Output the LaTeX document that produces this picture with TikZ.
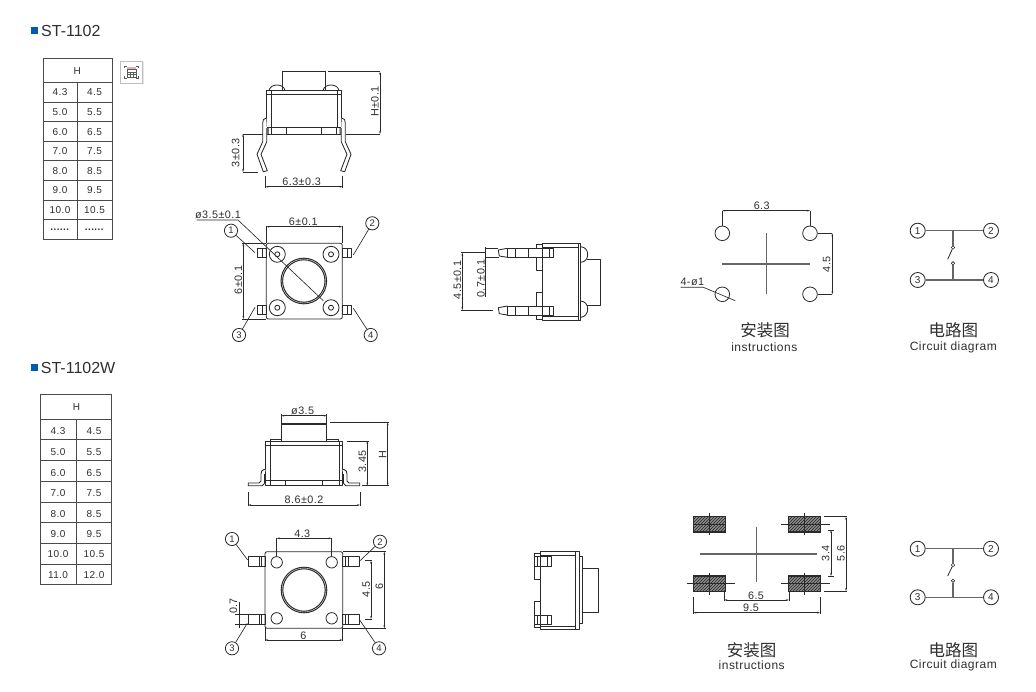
\documentclass[tikz,border=0pt]{standalone}
\usepackage{fontspec}
\usetikzlibrary{arrows.meta,patterns}
\setmainfont{Liberation Sans}
\newfontfamily\trk[LetterSpace=4]{Liberation Sans}
\newfontfamily\cjkf{Noto Sans CJK SC}
\definecolor{ink}{HTML}{2A2A2A}
\definecolor{txt}{HTML}{2F2F2F}
\definecolor{grayln}{HTML}{666666}
\definecolor{bluesq}{HTML}{005BAC}
\newcommand{\sixdots}{\textbf{......}}
\newcommand{\leadA}{\draw[part,fill=white] (266.3,118) .. controls (263.5,118.5) and (262.7,120) .. (262.7,123) -- (262.7,141.7) -- (257,154.3) -- (263.3,171.7) -- (267.3,170.7) -- (261,154.3) -- (266.8,141.7) -- (266.8,128);}
\newcommand{\leadB}{\draw[part,fill=white,line join=round] (265.7,469.5) -- (264,469.5) .. controls (262,470) and (261,471.5) .. (261,474) -- (261,481) -- (259,483) -- (248.3,483) -- (248.3,485.7) -- (262.3,485.7) -- (264.5,483.3) -- (264.5,474);}
\tikzset{
  mirrored/.style={shift={(608,0)},xscale=-1},
  part/.style={draw=ink,line width=0.85pt,line join=round},
  thick part/.style={draw=ink,line width=1.4pt},
  dimln/.style={draw=ink,line width=0.6pt,{Stealth[length=3pt,width=1.7pt]}-{Stealth[length=3pt,width=1.7pt]}},
  extln/.style={draw=ink,line width=0.6pt},
  leader/.style={draw=ink,line width=0.65pt},
  dimlabel/.style={inner sep=0pt,text=txt,font=\trk\fontsize{10.8}{12}\selectfont},
  celltext/.style={inner sep=0pt,text=txt,font=\trk\fontsize{10}{11}\selectfont},
  pin/.style={circle,draw=ink,line width=0.8pt,fill=white,inner sep=0pt,minimum size=13.2pt,text=txt,font=\fontsize{9.5}{10}\selectfont},
  cpin/.style={circle,draw=ink,line width=0.85pt,fill=white,inner sep=0pt,minimum size=15pt,text=txt,font=\fontsize{10}{11}\selectfont},
  wire/.style={draw=grayln,line width=1.2pt},
  crossln/.style={draw=grayln,line width=1.1pt},
  contact/.style={circle,draw=ink,line width=0.6pt,fill=white,inner sep=0pt,minimum size=3.4pt},
  titletext/.style={inner sep=0pt,anchor=west,text=txt,font=\fontsize{16}{18}\selectfont},
  cnlabel/.style={inner sep=0pt,text=txt,font=\cjkf\fontsize{16.5}{18}\selectfont},
  enlabel/.style={inner sep=0pt,text=txt,font=\trk\fontsize{12}{13}\selectfont},
  tabln/.style={draw=ink!85,line width=0.9pt},
  pad/.style={draw=ink,line width=1.1pt,pattern=north east lines,pattern color=black!85},
}
\begin{document}
\begin{tikzpicture}[x=1pt,y=-1pt]
\useasboundingbox (0,0) rectangle (1036,691);
\fill[white] (0,0) rectangle (1036,691);
% ---------- titles
\fill[bluesq] (31,27) rectangle (38,34);
\node[titletext] (title1) at (41,31) {ST-1102};
\fill[bluesq] (31.3,364.3) rectangle (37.5,370.7);
\node[titletext] (title2) at (40.7,368.3) {ST-1102W};
% ---------- table 1
\draw[tabln] (43,58) rectangle (112,239);
\foreach \y in {82,102,121,141,160,180,200,219} \draw[tabln] (43,\y) -- (112,\y);
\draw[tabln] (77.3,82) -- (77.3,239);
\node[celltext] (ta0) at (77.3,71) {H};
\foreach \y/\a/\b [count=\i] in {92.5/4.3/4.5,112.5/5.0/5.5,132/6.0/6.5,151.5/7.0/7.5,171/8.0/8.5,190.5/9.0/9.5,210.5/10.0/10.5,230/\sixdots/\sixdots}{
  \node[celltext] (ta\i) at (60,\y) {\a};
  \node[celltext] (tb\i) at (94.5,\y) {\b};
}
% icon
\fill[black!10] (120.5,61.5) rectangle (143.5,84);
\draw[black!25,fill=white,line width=0.5pt] (120,61) rectangle (142.5,83);
\fill[red!35!brown!45] (127,67) rectangle (136,69);
\draw[black!65,line width=0.5pt] (127,69) rectangle (136,77) (127,72) -- (136,72) (127,74.5) -- (136,74.5) (130,72) -- (130,77) (133,72) -- (133,77);
\draw[black!65,line width=0.5pt] (124.5,68) -- (124.5,66) -- (127,66) (136,66) -- (138.5,66) -- (138.5,68) (124.5,76) -- (124.5,78) -- (127,78) (136,78) -- (138.5,78) -- (138.5,76);
% ---------- table 2
\draw[tabln] (40.7,394) rectangle (111.7,584.7);
\foreach \y in {419,439.7,460.3,481.3,502,522.7,543.3,564} \draw[tabln] (40.7,\y) -- (111.7,\y);
\draw[tabln] (76.7,419) -- (76.7,584.7);
\node[celltext] (tc0) at (76.5,407.5) {H};
\foreach \y/\a/\b [count=\i] in {431.5/4.3/4.5,452.5/5.0/5.5,473/6.0/6.5,493.5/7.0/7.5,514.5/8.0/8.5,534.5/9.0/9.5,554.5/10.0/10.5,575/11.0/12.0}{
  \node[celltext] (tc\i) at (58,\y) {\a};
  \node[celltext] (td\i) at (94,\y) {\b};
}
% ---------- view 1: side view
\draw[part] (282.3,91) -- (282.3,71.7) -- (325.7,71.7) -- (325.7,91);
\draw[thick part] (282.3,71.7) -- (325.7,71.7);
\draw[part] (269,90.7) .. controls (269.5,87) and (273,85) .. (277,85) .. controls (281,85) and (284.5,87) .. (285,90.7);
\draw[part] (323,90.7) .. controls (323.5,87) and (327,85) .. (331,85) .. controls (335,85) and (338.5,87) .. (339,90.7);
\draw[part] (266.3,90.7) rectangle (341.7,134);
\draw[part] (266.3,94.7) -- (341.7,94.7);
\draw[part] (271,90.7) -- (271,127.7) (337,90.7) -- (337,127.7);
\draw[part] (267.3,127.7) -- (340.7,127.7);
\draw[part] (271.7,127.7) -- (271.7,134) (286,127.7) -- (286,134) (321.7,127.7) -- (321.7,134) (336,127.7) -- (336,134);
\fill[ink] (267.3,127.7) rectangle (268.5,134) (339.5,127.7) rectangle (340.7,134);
\leadA
\begin{scope}[mirrored]\leadA\end{scope}
% dims view 1
\coordinate (h1t) at (380,71.7); \coordinate (h1b) at (380,134);
\draw[extln] (328,71.7) -- (h1t) (345.7,134) -- (h1b);
\draw[extln] (243,134) -- (262.7,134);
\draw[dimln] (h1t) -- (h1b);
\node[dimlabel,rotate=90] (dH) at (375,101.7) {H±0.1};
\coordinate (l3t) at (243,134); \coordinate (l3b) at (243,172);
\draw[dimln] (l3t) -- (l3b);
\draw[extln] (l3b) -- (258,172);
\node[dimlabel,rotate=90] (d3) at (235.7,152.7) {3±0.3};
\coordinate (w1l) at (265.5,186.7); \coordinate (w1r) at (342.7,186.7);
\draw[dimln] (w1l) -- (w1r);
\draw[extln] (265.5,176) -- (265.5,188) (342.7,176) -- (342.7,188);
\node[dimlabel] (d63) at (301.7,181.5) {6.3±0.3};
% ---------- view 2: top view
\draw[part,rounded corners=2pt] (266.3,243.3) rectangle (342.3,319);
\draw[ink,line width=2.6pt] (303.8,281) circle[radius=22];
\draw[white,line width=0.35pt] (303.8,281) circle[radius=22];
\foreach \p in {(277.3,254.3),(331,254.3),(277.3,307.7),(331,307.7)}{
  \draw[part] \p circle[radius=8];
  \draw[part] \p circle[radius=2.5];
}
\foreach \y in {248.3,305}{
  \draw[part] (257.3,\y) rectangle (266.3,\y+9);
  \draw[part] (262.3,\y) -- (262.3,\y+9);
  \draw[part] (342.3,\y) rectangle (351.7,\y+9);
  \draw[part] (347,\y) -- (347,\y+9);
}
\node[pin] (p1) at (231,230.7) {1};
\node[pin] (p2) at (372.3,223.3) {2};
\node[pin] (p3) at (239,335) {3};
\node[pin] (p4) at (370.7,335) {4};
\coordinate (e1) at (255,252.7); \coordinate (e2) at (353.3,255); \coordinate (e3) at (255,307.3); \coordinate (e4) at (353.3,308.3);
\draw[leader] (p1) -- (e1); \draw[leader] (p2) -- (e2); \draw[leader] (p3) -- (e3); \draw[leader] (p4) -- (e4);
\node[dimlabel] (dphi) at (218,215) {ø3.5±0.1};
\coordinate (phiA) at (196.7,220); \coordinate (phiB) at (238,220); \coordinate (phiC) at (323.3,300.7);
\draw[leader] (phiA) -- (phiB) -- (phiC);
\coordinate (w2l) at (266.3,226.7); \coordinate (w2r) at (342.3,226.7);
\draw[dimln] (w2l) -- (w2r);
\draw[extln] (266.3,225.5) -- (266.3,243.3) (342.3,225.5) -- (342.3,243.3);
\node[dimlabel] (d6a) at (303.3,221.5) {6±0.1};
\coordinate (v2t) at (243.3,243.3); \coordinate (v2b) at (243.3,319);
\draw[dimln] (v2t) -- (v2b);
\draw[extln] (242,243.3) -- (266.3,243.3) (242,319) -- (266.3,319);
\node[dimlabel,rotate=90] (d6b) at (238.3,280) {6±0.1};
% ---------- view 3: side view of pins
\draw[part] (542.7,243.3) rectangle (580.7,320.7);
\draw[part] (578.3,243.3) -- (578.3,320.7);
\draw[part] (542.7,247.7) -- (578.3,247.7) (542.7,316.7) -- (578.3,316.7);
\draw[part] (580.7,246.7) .. controls (585,247) and (587.7,250) .. (587.7,254.5) .. controls (587.7,259) and (585,262) .. (580.7,262.3);
\draw[part] (580.7,301) .. controls (585,301.3) and (587.7,304.5) .. (587.7,309) .. controls (587.7,313.5) and (585,317) .. (580.7,317.3);
\draw[part] (587,259.3) -- (600.7,259.3) -- (600.7,305) -- (587,305);
\draw[part] (542.7,244.3) -- (536.3,244.3) (536.3,257.3) -- (536.3,270.7) -- (542.7,270.7);
\draw[part] (542.7,292.7) -- (536.3,292.7) -- (536.3,306) (536.3,315) -- (536.3,319.3) -- (542.7,319.3);
\draw[part] (536.3,244.3) -- (536.3,248.3);
\foreach \y in {248.3,306}{
  \draw[part] (507.3,\y) rectangle (553.3,\y+9);
  \draw[part] (515.7,\y) -- (515.7,\y+9) (528.3,\y) -- (528.3,\y+9) (549.7,\y) -- (549.7,\y+9);
  \draw[part] (507.3,\y) -- (498.3,\y+1.7) -- (499.3,\y+7.7) -- (507.3,\y+9);
}
\coordinate (a45t) at (462.3,252.7); \coordinate (a45b) at (462.3,310);
\draw[dimln] (a45t) -- (a45b);
\draw[extln] (461,252.7) -- (485.7,252.7) (461,310) -- (493.3,310);
\node[dimlabel,rotate=90] (d45) at (457.3,280) {4.5±0.1};
\coordinate (a07t) at (485.7,246.7); \coordinate (a07b) at (485.7,296.7);
\draw[extln] (a07t) -- (a07b);
\draw[extln] (485.7,248.3) -- (498.3,248.3) (485.7,257.3) -- (499.3,257.3);
\node[dimlabel,rotate=90] (d07) at (481,278.3) {0.7±0.1};
% ---------- view 4: mounting
\foreach \n/\p in {h1/{722.3,233.3},h2/{810,233.3},h3/{722.3,294.3},h4/{810,294.3}}
  \node[circle,draw=ink,line width=0.8pt,minimum size=14.6pt,inner sep=0pt] (\n) at (\p) {};
\draw[crossln] (722.3,264) -- (810,264) (766.3,233.3) -- (766.3,294.3);
\coordinate (m1) at (722.3,210.7); \coordinate (m2) at (810,210.7);
\draw[dimln] (m1) -- (m2);
\draw[extln] (m1) -- (h1.north) (m2) -- (h2.north);
\node[dimlabel] (d63b) at (761.7,205.5) {6.3};
\coordinate (m3) at (832.3,233.3); \coordinate (m4) at (832.3,294.3);
\draw[dimln] (m3) -- (m4);
\draw[extln] (h2.east) -- (m3) (h4.east) -- (m4);
\node[dimlabel,rotate=90] (d45b) at (826.7,264.3) {4.5};
\node[dimlabel] (d41) at (692.3,282) {4-ø1};
\coordinate (q1) at (680.7,287.3); \coordinate (q2) at (703.3,287.3); \coordinate (q3) at (735.3,300.7);
\draw[leader] (q1) -- (q2) -- (q3);
\node[cnlabel] (lab1) at (765,330.5) {安装图};
\node[enlabel] (lab2) at (764.3,347.3) {instructions};
% ---------- circuit 1
\node[cpin] (c1) at (917.7,230.7) {1};
\node[cpin] (c2) at (991,230.7) {2};
\node[cpin] (c3) at (917.7,280) {3};
\node[cpin] (c4) at (991,280) {4};
\coordinate (j1) at (953,230.7); \coordinate (j2) at (953,280);
\draw[wire] (c1) -- (c2); \draw[wire] (c3) -- (c4);
\node[contact] (s1) at (953,247.5) {};
\node[contact] (s2) at (953,263.3) {};
\draw[wire] (j1) -- (s1); \draw[wire] (j2) -- (s2);
\coordinate (sw) at (947.7,259.3);
\draw[draw=ink,line width=0.8pt] (s1) -- (sw);
\node[cnlabel] (lab3) at (953.3,330.5) {电路图};
\node[enlabel] (lab4) at (953.3,347.3) {Circuit diagram};
% ---------- view 5: SMD side
\draw[part] (281.3,441) -- (281.3,423.3) -- (326.7,423.3) -- (326.7,441);
\draw[ink,line width=1.7pt] (281.3,424) -- (326.7,424);
\draw[part] (270,441) -- (270,439) -- (281.3,439) (326.7,439) -- (338,439) -- (338,441);
\draw[part] (265.7,441.7) rectangle (342.3,485.7);
\draw[part] (265.7,445.7) -- (342.3,445.7);
\draw[part] (270,441.7) -- (270,480) (339,441.7) -- (339,480);
\draw[part] (265.7,480) -- (342.3,480);
\draw[part] (270.7,480) -- (270.7,485.7) (285.7,480) -- (285.7,485.7) (322.3,480) -- (322.3,485.7) (339,480) -- (339,485.7);
\leadB
\begin{scope}[mirrored]\leadB\end{scope}
\coordinate (r1) at (281.3,415.7); \coordinate (r2) at (326.7,415.7);
\draw[dimln] (r1) -- (r2);
\draw[extln] (281.3,414) -- (281.3,423.3) (326.7,414) -- (326.7,423.3);
\node[dimlabel] (d35) at (302.7,410.5) {ø3.5};
\coordinate (r3) at (248.3,505); \coordinate (r4) at (360,505);
\draw[dimln] (r3) -- (r4);
\draw[extln] (248.3,491.7) -- (248.3,506) (360,491.7) -- (360,506);
\node[dimlabel] (d86) at (304,500) {8.6±0.2};
\coordinate (r5) at (367.3,441); \coordinate (r6) at (367.3,485.7);
\draw[dimln] (r5) -- (r6);
\draw[extln] (346.7,441) -- (368.5,441) (361.7,485.7) -- (388.5,485.7);
\node[dimlabel,rotate=90] (d345) at (362.5,461.7) {3.45};
\coordinate (r7) at (387.7,422.3); \coordinate (r8) at (387.7,485.7);
\draw[dimln] (r7) -- (r8);
\draw[extln] (330,422.3) -- (388.5,422.3);
\node[dimlabel,rotate=90] (dH2) at (382.7,455) {H};
% ---------- view 6: SMD top
\draw[part,rounded corners=2pt] (265,551.7) rectangle (342.7,628.3);
\draw[ink,line width=2.6pt] (304,590) circle[radius=22];
\draw[white,line width=0.35pt] (304,590) circle[radius=22];
\foreach \n/\p in {k1/{276.7,562.3},k2/{331.7,562.3},k3/{276.7,618.3},k4/{331.7,618.3}}
  \node[circle,draw=ink,line width=0.8pt,minimum size=11.4pt,inner sep=0pt] (\n) at (\p) {};
\foreach \y in {556.7,614}{
  \draw[part] (248.3,\y) rectangle (265,\y+10);
  \draw[part] (259.3,\y) -- (259.3,\y+10) (261.7,\y) -- (261.7,\y+10);
  \draw[part] (342.7,\y) rectangle (359,\y+10);
  \draw[part] (345,\y) -- (345,\y+10) (348.3,\y) -- (348.3,\y+10);
}
\node[pin] (q1p) at (232,539) {1};
\node[pin] (q2p) at (380,541.7) {2};
\node[pin] (q3p) at (232,648.3) {3};
\node[pin] (q4p) at (379,648.3) {4};
\coordinate (f1) at (247.7,560); \coordinate (f2) at (359,561.7); \coordinate (f3) at (247.3,623.3); \coordinate (f4) at (359,619);
\draw[leader] (q1p) -- (f1); \draw[leader] (q2p) -- (f2); \draw[leader] (q3p) -- (f3); \draw[leader] (q4p) -- (f4);
\coordinate (u1) at (276.7,538.3); \coordinate (u2) at (331.7,538.3);
\draw[dimln] (u1) -- (u2);
\draw[extln] (u1) -- (k1.north) (u2) -- (k2.north);
\node[dimlabel] (d43) at (302.3,533.5) {4.3};
\coordinate (u3) at (384.3,551.7); \coordinate (u4) at (384.3,628.3);
\draw[dimln] (u3) -- (u4);
\draw[extln] (342.7,551.7) -- (385.5,551.7) (342.7,628.3) -- (385.5,628.3);
\node[dimlabel,rotate=90] (d6c) at (379.5,586.7) {6};
\coordinate (u5) at (371,560.7); \coordinate (u6) at (371,619);
\draw[dimln] (u5) -- (u6);
\draw[extln] (365,560.7) -- (372,560.7) (365,619) -- (372,619);
\node[dimlabel,rotate=90] (d45c) at (366.3,589.3) {4.5};
\coordinate (u7) at (265,640); \coordinate (u8) at (342.7,640);
\draw[dimln] (u7) -- (u8);
\draw[extln] (265,628.3) -- (265,641) (342.7,628.3) -- (342.7,641);
\node[dimlabel] (d6d) at (303.3,635.5) {6};
\coordinate (u9) at (239,602); \coordinate (u10) at (239,628);
\draw[extln] (u9) -- (u10);
\draw[extln] (235,614) -- (248.3,614) (235,624) -- (248.3,624);
\node[dimlabel,rotate=90] (d07b) at (233.5,606) {0.7};
% ---------- view 7: SMD rear
\draw[part] (540.7,551.7) rectangle (579.3,629.3);
\draw[part] (575.7,551.7) -- (575.7,629.3);
\draw[part] (540.7,555) -- (575.7,555) (540.7,626) -- (575.7,626);
\draw[part] (579.3,556.7) -- (582,556.7) -- (582,623) -- (579.3,623);
\draw[part] (582,568) -- (598.7,568) -- (598.7,612.7) -- (582,612.7);
\draw[part] (540.7,553.3) -- (534,553.3) -- (534,579.3) -- (540.7,579.3);
\draw[part] (540.7,601.7) -- (534,601.7) -- (534,627.3) -- (540.7,627.3);
\foreach \y in {556.7,615}{
  \draw[part] (534,\y) rectangle (551.7,\y+9.3);
  \draw[part] (537.3,\y) -- (537.3,\y+9.3) (547.3,\y) -- (547.3,\y+9.3);
}
% ---------- view 8: SMD pads
\foreach \x/\y in {693.3/516.7,788.3/516.7,693.3/576,788.3/576}{
  \fill[black!45] (\x,\y) rectangle (\x+32,\y+15.3);
  \draw[pad] (\x,\y) rectangle (\x+32,\y+15.3);
  \draw[ink,line width=1.1pt] (\x,\y+7.6) -- (\x+32,\y+7.6);
  \draw[ink,line width=0.9pt] (\x+16,\y-3.5) -- (\x+16,\y+18.5);
}
\draw[ink,line width=0.8pt] (781,524.3) -- (830,524.3);
\draw[ink,line width=0.8pt] (686.7,583.7) -- (735,583.7) (781,583.7) -- (830,583.7);
\draw[crossln] (700,554) -- (816.7,554) (756.7,526.7) -- (756.7,582.3);
\coordinate (v1) at (724.3,600); \coordinate (v2) at (789,600);
\draw[dimln] (v1) -- (v2);
\draw[extln] (724.3,592) -- (724.3,601) (789,592) -- (789,601);
\node[dimlabel] (d65) at (756,595.5) {6.5};
\coordinate (v3) at (693.3,612.7); \coordinate (v4) at (820,612.7);
\draw[dimln] (v3) -- (v4);
\draw[extln] (693.3,596.7) -- (693.3,614) (820,596.7) -- (820,614);
\node[dimlabel] (d95) at (751,608) {9.5};
\coordinate (v5) at (831,530); \coordinate (v6) at (831,576);
\draw[dimln] (v5) -- (v6);
\draw[extln] (828,530) -- (834,530) (828,576) -- (834,576);
\node[dimlabel,rotate=90] (d34) at (825.7,553.3) {3.4};
\coordinate (v7) at (846,516.7); \coordinate (v8) at (846,591);
\draw[dimln] (v7) -- (v8);
\draw[extln] (824.3,516.7) -- (847,516.7) (824.3,591) -- (847,591);
\node[dimlabel,rotate=90] (d56) at (841,553.3) {5.6};
\node[cnlabel] (lab5) at (751.7,650.5) {安装图};
\node[enlabel] (lab6) at (751.7,665.7) {instructions};
% ---------- circuit 2
\node[cpin] (g1) at (917.7,548.7) {1};
\node[cpin] (g2) at (991,548.7) {2};
\node[cpin] (g3) at (917.7,597.3) {3};
\node[cpin] (g4) at (991,597.3) {4};
\coordinate (i1) at (953,548.7); \coordinate (i2) at (953,597.3);
\draw[wire] (g1) -- (g2); \draw[wire] (g3) -- (g4);
\node[contact] (t1) at (953,565) {};
\node[contact] (t2) at (953,580.7) {};
\draw[wire] (i1) -- (t1); \draw[wire] (i2) -- (t2);
\coordinate (sv) at (947.7,576);
\draw[draw=ink,line width=0.8pt] (t1) -- (sv);
\node[cnlabel] (lab7) at (953.3,650) {电路图};
\node[enlabel] (lab8) at (953.3,665.7) {Circuit diagram};
\end{tikzpicture}
\end{document}
